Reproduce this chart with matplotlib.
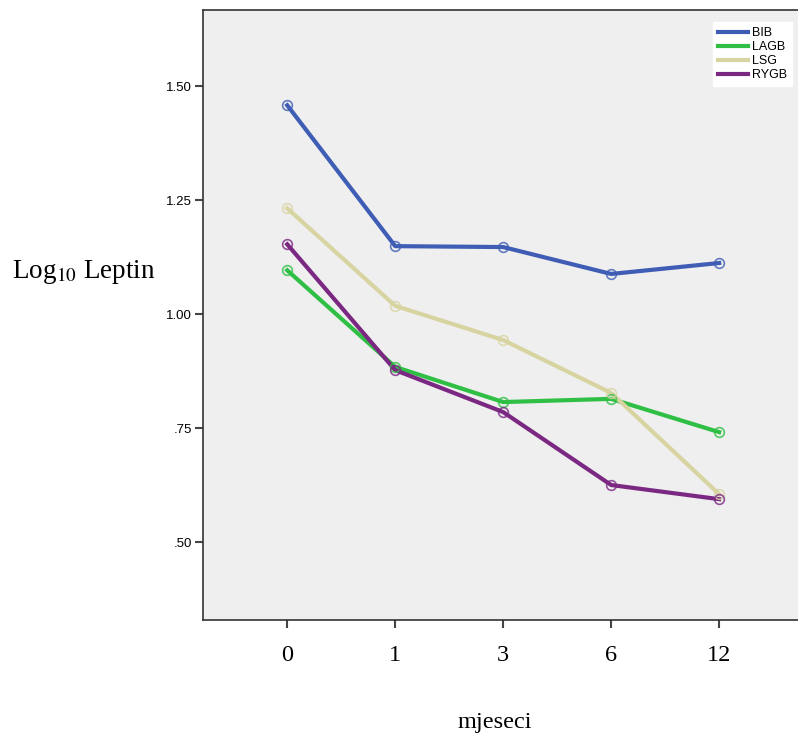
import matplotlib.pyplot as plt

months = ['0', '1', '3', '6', '12']
groups = ['BIB', 'LAGB', 'LSG', 'RYGB']
bib = [1.458, 1.149, 1.147, 1.088, 1.112]
lagb = [1.096, 0.884, 0.807, 0.814, 0.741]
lsg = [1.232, 1.018, 0.943, 0.827, 0.605]
rygb = [1.153, 0.877, 0.785, 0.625, 0.594]
yticks = [0.50, 0.75, 1.00, 1.25, 1.50]
ytick_labels = ['.50', '.75', '1.00', '1.25', '1.50']

colors = ['#3f5db5', '#2fbf45', '#d8d4a2', '#7b2882']

fig = plt.figure(figsize=(7.98, 7.40), dpi=100)
ax = fig.add_axes([0.2544, 0.1622, 0.7456, 0.8243])
ax.set_facecolor('#efefef')

x = list(range(len(months)))
for name, vals, c in zip(groups, [bib, lagb, lsg, rygb], colors):
    ax.plot(x, vals, color=c, linewidth=3, label=name, zorder=3)
    ax.plot(x, vals, linestyle='none', marker='o', markersize=7, markerfacecolor='none',
            markeredgecolor=c, markeredgewidth=1.2, alpha=0.8, zorder=4)

ax.set_xlim(-0.78, 4.73)
ax.set_ylim(0.329, 1.667)
ax.set_xticks(x)
ax.set_xticklabels(months, fontfamily='Liberation Serif', fontsize=17.5)
ax.set_yticks(yticks)
ax.set_yticklabels(ytick_labels, fontfamily='Liberation Sans', fontsize=9.5)
ax.tick_params(axis='x', length=6, width=1.5, color='#444444', pad=12)
ax.tick_params(axis='y', length=6, width=1.5, color='#444444', pad=2)

for s in ['left', 'bottom', 'top']:
    ax.spines[s].set_linewidth(1.2)
    ax.spines[s].set_color('#333333')
ax.spines['right'].set_visible(False)

leg = ax.legend(loc='upper right', bbox_to_anchor=(1.0, 0.99), frameon=True, fancybox=False,
                edgecolor='white', facecolor='white', framealpha=1,
                prop={'family': 'Liberation Sans', 'size': 9}, handlelength=2.4,
                handletextpad=0.3, labelspacing=0.15, borderpad=0.4)

fig.text(0.015, 0.633, r'Log$_{10}$ Leptin', fontfamily='Liberation Serif', fontsize=19.5,
         va='center', ha='left', math_fontfamily='stix')
fig.text(0.62, 0.024, 'mjeseci', fontfamily='Liberation Serif', fontsize=17.5,
         va='center', ha='center')

fig.savefig('out.png', dpi=100)
